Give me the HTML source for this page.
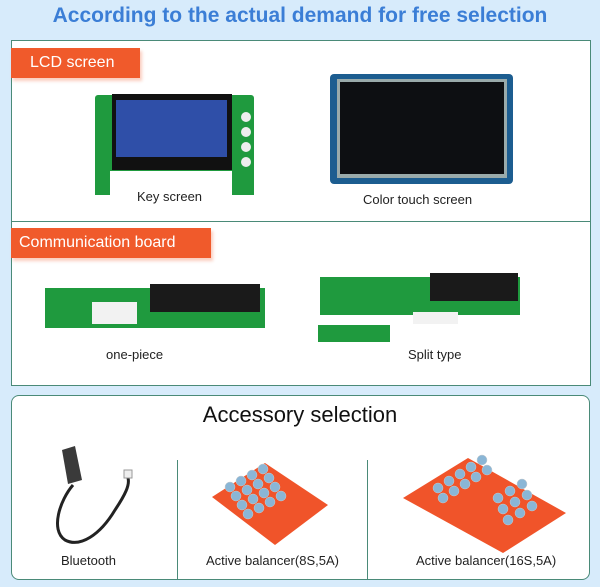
<!DOCTYPE html><html><head><style>
body{margin:0;width:600px;height:587px;background:#d7ebfb;position:relative;overflow:hidden;font-family:"Liberation Sans",sans-serif}
.a{position:absolute}
.t{position:absolute;font-size:13px;color:#222;white-space:nowrap}
.lab{position:absolute;background:#f05a2b;color:#fff;font-size:16px;padding-left:8px;line-height:30px;box-shadow:2px 3px 3px rgba(240,90,43,.3)}
.g{background:#1f9a3e}
</style></head><body>
<div class="a" style="left:0;top:4px;width:600px;text-align:center;font-size:21px;font-weight:bold;color:#3b7ed6">According to the actual demand for free selection</div>
<div class="a" style="left:11px;top:40px;width:578px;height:344px;background:#fff;border:1px solid #4a8a78"></div>
<div class="a" style="left:11px;top:221px;width:580px;height:1px;background:#4a8a78"></div>
<div class="lab" style="left:11px;top:48px;padding-left:19px;width:110px">LCD screen</div>
<div class="lab" style="left:11px;top:228px;width:192px">Communication board</div>
<!-- key screen -->
<div class="a g" style="left:95px;top:95px;width:159px;height:76px;border-radius:3px"></div>
<div class="a g" style="left:95px;top:165px;width:15px;height:30px"></div>
<div class="a g" style="left:232px;top:165px;width:22px;height:30px"></div>
<div class="a" style="left:112px;top:94px;width:120px;height:76px;background:#111"></div>
<div class="a" style="left:116px;top:100px;width:111px;height:57px;background:#2f4fa8"></div>
<div class="a" style="left:241px;top:112px;width:10px;height:10px;border-radius:50%;background:#eee;box-shadow:0 15px #eee,0 30px #eee,0 45px #eee"></div>
<div class="t" style="left:137px;top:189px">Key screen</div>
<!-- color touch -->
<div class="a" style="left:330px;top:74px;width:183px;height:110px;background:#1c5d90;border-radius:4px"></div>
<div class="a" style="left:337px;top:79px;width:170px;height:99px;background:#9aa"></div>
<div class="a" style="left:340px;top:82px;width:164px;height:92px;background:#0d0f12"></div>
<div class="t" style="left:363px;top:192px">Color touch screen</div>
<!-- one piece -->
<div class="a g" style="left:45px;top:288px;width:220px;height:40px"></div>
<div class="a" style="left:150px;top:284px;width:110px;height:28px;background:#1a1a1a"></div>
<div class="a" style="left:92px;top:302px;width:45px;height:22px;background:#f2f2f2"></div>
<div class="t" style="left:106px;top:347px">one-piece</div>
<!-- split -->
<div class="a g" style="left:320px;top:277px;width:200px;height:38px"></div>
<div class="a" style="left:430px;top:273px;width:88px;height:28px;background:#1a1a1a"></div>
<div class="a" style="left:413px;top:312px;width:45px;height:12px;background:#f2f2f2"></div>
<div class="a g" style="left:318px;top:325px;width:72px;height:17px"></div>
<div class="t" style="left:408px;top:347px">Split type</div>
<!-- bottom -->
<div class="a" style="left:11px;top:395px;width:577px;height:183px;background:#fff;border:1px solid #4a8a78;border-radius:8px"></div>
<div class="a" style="left:0;top:402px;width:600px;text-align:center;font-size:22px;color:#111">Accessory selection</div>
<div class="a" style="left:177px;top:460px;width:1px;height:119px;background:#4a8a78"></div>
<div class="a" style="left:367px;top:460px;width:1px;height:119px;background:#4a8a78"></div>
<svg class="a" style="left:40px;top:440px" width="100" height="110">
<polygon points="22,10 35,6 42,40 28,44" fill="#3a3a3a"/>
<path d="M33,45 C20,60 10,90 25,100 C40,108 60,95 75,70 C85,55 90,45 88,38" fill="none" stroke="#222" stroke-width="3"/>
<rect x="84" y="30" width="8" height="8" fill="#eee" stroke="#999"/>
</svg>
<div class="t" style="left:61px;top:553px">Bluetooth</div>
<svg class="a" style="left:200px;top:455px" width="160" height="100">
<polygon points="12,42 65,8 128,50 75,90" fill="#f0542a"/>
<g fill="#8ab6d6" stroke="#ccc" stroke-width=".5">
<circle cx="30" cy="32" r="5"/><circle cx="41" cy="26" r="5"/><circle cx="52" cy="20" r="5"/><circle cx="63" cy="14" r="5"/>
<circle cx="36" cy="41" r="5"/><circle cx="47" cy="35" r="5"/><circle cx="58" cy="29" r="5"/><circle cx="69" cy="23" r="5"/>
<circle cx="42" cy="50" r="5"/><circle cx="53" cy="44" r="5"/><circle cx="64" cy="38" r="5"/><circle cx="75" cy="32" r="5"/>
<circle cx="48" cy="59" r="5"/><circle cx="59" cy="53" r="5"/><circle cx="70" cy="47" r="5"/><circle cx="81" cy="41" r="5"/></g>
</svg>
<div class="t" style="left:206px;top:553px">Active balancer(8S,5A)</div>
<svg class="a" style="left:398px;top:448px" width="190" height="110">
<polygon points="5,50 70,10 168,65 105,105" fill="#f0542a"/>
<g fill="#8ab6d6" stroke="#ccc" stroke-width=".5">
<circle cx="40" cy="40" r="5"/><circle cx="51" cy="33" r="5"/><circle cx="62" cy="26" r="5"/><circle cx="73" cy="19" r="5"/><circle cx="84" cy="12" r="5"/>
<circle cx="45" cy="50" r="5"/><circle cx="56" cy="43" r="5"/><circle cx="67" cy="36" r="5"/><circle cx="78" cy="29" r="5"/><circle cx="89" cy="22" r="5"/>
<circle cx="100" cy="50" r="5"/><circle cx="112" cy="43" r="5"/><circle cx="124" cy="36" r="5"/>
<circle cx="105" cy="61" r="5"/><circle cx="117" cy="54" r="5"/><circle cx="129" cy="47" r="5"/>
<circle cx="110" cy="72" r="5"/><circle cx="122" cy="65" r="5"/><circle cx="134" cy="58" r="5"/></g>
</svg>
<div class="t" style="left:416px;top:553px">Active balancer(16S,5A)</div>
</body></html>
